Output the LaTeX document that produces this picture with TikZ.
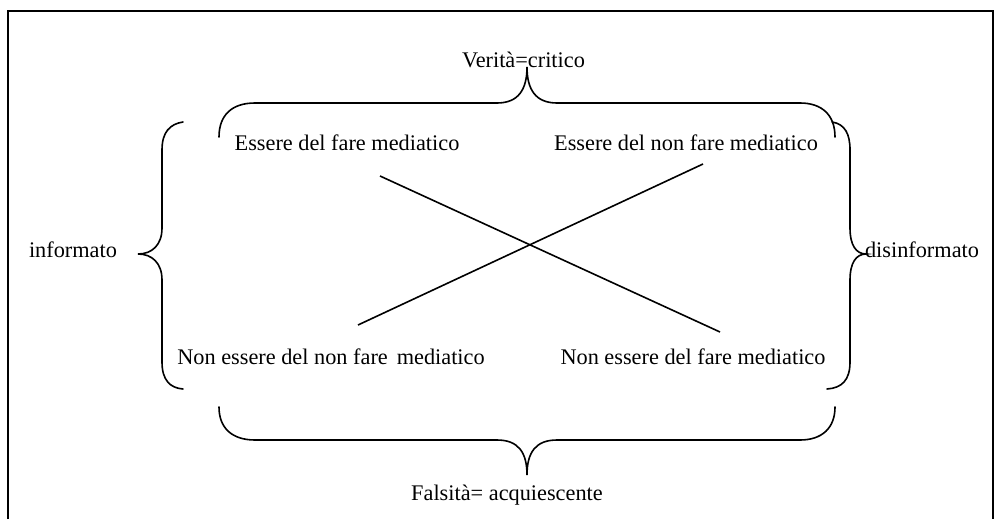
\documentclass[tikz,border=0pt]{standalone}
\usepackage{fontspec}
\setmainfont{Liberation Serif}
\begin{document}
\begin{tikzpicture}[x=1pt,y=-1pt,
  lbl/.style={inner sep=0pt,anchor=base,font=\fontsize{22.3}{25}\selectfont},
  brace/.style={line width=1.6pt,line cap=round},
  cross/.style={line width=1.6pt},
  frame/.style={line width=1.4pt}]
\useasboundingbox (0,0) rectangle (995,519);
\draw[frame] (8,519) -- (8,11) -- (993,11) -- (993,519);
% texts
\node[lbl] (vc) at (523.5,67) {Verità=critico};
\node[lbl] (efm) at (347,150) {Essere del fare mediatico};
\node[lbl] (enfm) at (686,150) {Essere del non fare mediatico};
\node[lbl] (inf) at (73,257) {informato};
\node[lbl] (dis) at (922,257) {disinformato};
\node[lbl] (nenfm) at (331,364) {Non essere del non fare \hspace{0.15em}mediatico};
\node[lbl] (nefm) at (693,364) {Non essere del fare mediatico};
\node[lbl] (fa) at (507,500) {Falsità= acquiescente};
% crossing lines
\coordinate (a1) at (380,176);
\coordinate (a2) at (720,332);
\coordinate (b1) at (358,325);
\coordinate (b2) at (703,164);
\draw[cross] (a1) -- (a2);
\draw[cross] (b1) -- (b2);
% top brace
\draw[brace] (219,137) .. controls (219,115) and (232,103) .. (255,103) -- (497,103)
  .. controls (518,103) and (527,90) .. (527,67)
  .. controls (527,90) and (536,103) .. (557,103) -- (800,103)
  .. controls (822,103) and (835,115) .. (835,137);
% bottom brace
\draw[brace] (219,407) .. controls (219,428) and (232,440) .. (255,440) -- (497,440)
  .. controls (518,440) and (527,452) .. (527,475)
  .. controls (527,452) and (536,440) .. (557,440) -- (800,440)
  .. controls (822,440) and (835,428) .. (835,407);
% left brace
\draw[brace] (183,122) .. controls (170,124) and (162,132) .. (162,150) -- (162,228)
  .. controls (162,245) and (152,254) .. (138,254)
  .. controls (152,254) and (162,263) .. (162,280) -- (162,362)
  .. controls (162,380) and (170,388) .. (183,389);
% right brace
\draw[brace] (832,122) .. controls (845,124) and (850,134) .. (850,150) -- (850,228)
  .. controls (850,245) and (856,254) .. (866,254)
  .. controls (856,254) and (850,263) .. (850,280) -- (850,362)
  .. controls (850,380) and (842,388) .. (827,389);
\end{tikzpicture}
\end{document}
